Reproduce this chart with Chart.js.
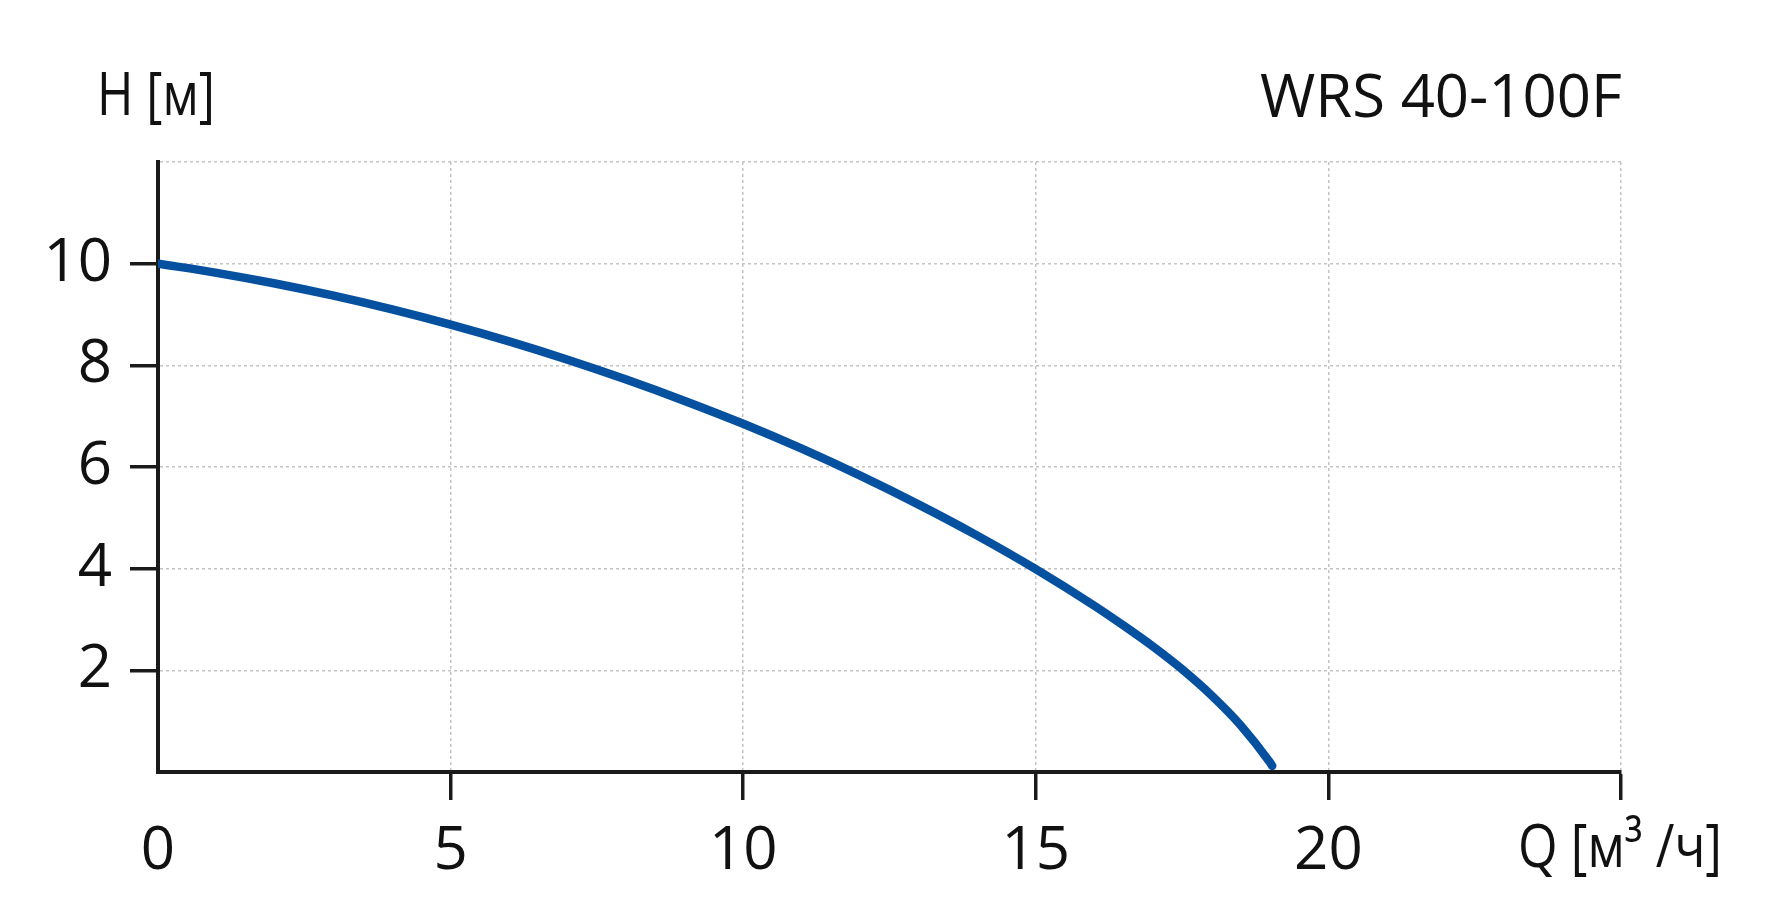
<!DOCTYPE html>
<html>
<head>
<meta charset="utf-8">
<script src="https://cdn.jsdelivr.net/npm/chart.js@4/dist/chart.umd.min.js"></script>
<style>
  html, body { margin: 0; padding: 0; background: #ffffff; }
  #wrap { width: 1779px; height: 900px; position: relative; }
</style>
</head>
<body>
<div id="wrap"><canvas id="c" width="1779" height="900"></canvas></div>
<script>
// ---- data ----
const flowQ = [0, 1, 2, 3, 4, 5, 6, 7, 8, 9, 10, 11, 12, 13, 14, 15, 16, 16.5, 17, 17.5, 18, 18.5, 19, 19.04];
const headH = [10, 9.82, 9.61, 9.37, 9.10, 8.80, 8.47, 8.11, 7.72, 7.30, 6.85, 6.36, 5.83, 5.26, 4.65, 3.99, 3.27, 2.88, 2.47, 2.02, 1.51, 0.92, 0.19, 0.12];
const xTickValues = [0, 5, 10, 15, 20, 25];
const xTickLabels = ['0', '5', '10', '15', '20', ''];
const yTickValues = [0, 2, 4, 6, 8, 10, 12];
const yTickLabels = ['', '2', '4', '6', '8', '10', ''];
const chartTitle = 'WRS 40-100F';
const yAxisTitle = 'H [м]';
const xAxisTitle = 'Q [м³ /ч]';

const FONT = '"Open Sans", "DejaVu Sans", sans-serif';
const points = flowQ.map((q, i) => ({ x: q, y: headH[i] }));

const textPlugin = {
  id: 'texts',
  afterDraw(chart) {
    const ctx = chart.ctx;
    const area = chart.chartArea;
    ctx.save();
    ctx.fillStyle = '#111111';
    ctx.font = '60px ' + FONT;
    ctx.textBaseline = 'alphabetic';
    ctx.textAlign = 'right';
    ctx.fillText(chartTitle, area.right + 1, 117, 362);
    ctx.textAlign = 'left';
    ctx.fillText(yAxisTitle, 97, 115, 118);
    ctx.fillText(xAxisTitle, 1518, 867, 204);
    ctx.restore();
  }
};

new Chart(document.getElementById('c'), {
  type: 'line',
  data: {
    datasets: [{
      data: points,
      borderColor: '#0650a0',
      borderWidth: 8.5,
      borderCapStyle: 'round',
      pointRadius: 0,
      fill: false,
      cubicInterpolationMode: 'monotone'
    }]
  },
  options: {
    responsive: false,
    animation: false,
    devicePixelRatio: 1,
    layout: { padding: { top: 162, right: 158, left: 0, bottom: 0 } },
    plugins: { legend: { display: false }, tooltip: { enabled: false }, title: { display: false } },
    scales: {
      x: {
        type: 'linear',
        min: 0, max: 25,
        afterFit(scale) { scale.height = 128; },
        afterBuildTicks(scale) { scale.ticks = xTickValues.map(v => ({ value: v })); },
        ticks: {
          autoSkip: false,
          maxRotation: 0,
          padding: 16,
          color: '#111111',
          font: { family: FONT, size: 60 },
          callback: (v, i) => xTickLabels[i]
        },
        grid: {
          color: ctx => (ctx.tick && ctx.tick.value === 0) ? 'rgba(0,0,0,0)' : '#c4c4c4',
          lineWidth: 1.5,
          tickLength: 28,
          tickWidth: 3.5,
          tickColor: ctx => (ctx.tick && ctx.tick.value === 0) ? 'rgba(0,0,0,0)' : '#1a1a1a',
          tickBorderDash: []
        },
        border: { display: true, color: '#1a1a1a', width: 4, dash: [3, 3] }
      },
      y: {
        type: 'linear',
        min: 0, max: 12,
        afterFit(scale) { scale.width = 158; },
        afterBuildTicks(scale) { scale.ticks = yTickValues.map(v => ({ value: v })); },
        ticks: {
          autoSkip: false,
          padding: 18,
          color: '#111111',
          font: { family: FONT, size: 60 },
          callback: (v, i) => yTickLabels[i]
        },
        grid: {
          color: ctx => (ctx.tick && ctx.tick.value === 0) ? 'rgba(0,0,0,0)' : '#c4c4c4',
          lineWidth: 1.5,
          tickLength: 28,
          tickWidth: 3.5,
          tickColor: ctx => (ctx.tick && (ctx.tick.value === 0 || ctx.tick.value === 12)) ? 'rgba(0,0,0,0)' : '#1a1a1a',
          tickBorderDash: []
        },
        border: { display: true, color: '#1a1a1a', width: 4, dash: [3, 3] }
      }
    }
  },
  plugins: [textPlugin]
});
</script>
</body>
</html>
